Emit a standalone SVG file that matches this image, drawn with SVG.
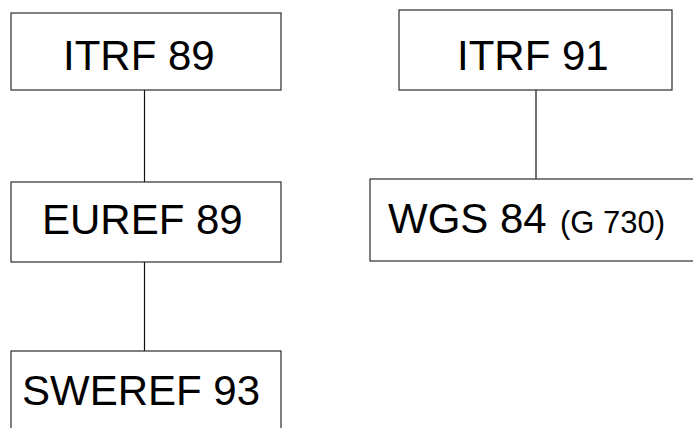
<svg xmlns="http://www.w3.org/2000/svg" width="693" height="428" viewBox="0 0 693 428">
  <style>
    .box { fill: #ffffff; stroke: #2a2a2a; stroke-width: 1.2; }
    .lbl { font-family: "Liberation Sans", Arial, Helvetica, sans-serif; font-size: 42px; fill: #000000; }
    .sub { font-size: 31px; }
    .link { stroke: #111111; stroke-width: 1.2; fill: none; }
  </style>
  <rect width="693" height="428" fill="#ffffff"/>

  <g id="connectors">
    <line class="link" x1="144.5" y1="90" x2="144.5" y2="182"/>
    <line class="link" x1="144.5" y1="262" x2="144.5" y2="351"/>
    <line class="link" x1="536" y1="90" x2="536" y2="179"/>
  </g>

  <g id="itrf89">
    <rect class="box" x="11" y="13" width="270" height="77"/>
    <text class="lbl" x="63" y="70">ITRF 89</text>
  </g>

  <g id="itrf91">
    <rect class="box" x="399" y="10" width="273" height="80"/>
    <text class="lbl" x="457" y="70">ITRF 91</text>
  </g>

  <g id="euref89">
    <rect class="box" x="11" y="182" width="270" height="80"/>
    <text class="lbl" x="42" y="234">EUREF 89</text>
  </g>

  <g id="wgs84">
    <rect class="box" x="370" y="179" width="340" height="82"/>
    <text class="lbl" x="388" y="233">WGS 84<tspan class="sub" x="560">(G 730)</tspan></text>
  </g>

  <g id="sweref93">
    <rect class="box" x="11" y="351" width="270" height="100"/>
    <text class="lbl" x="22" y="405">SWEREF 93</text>
  </g>
</svg>
